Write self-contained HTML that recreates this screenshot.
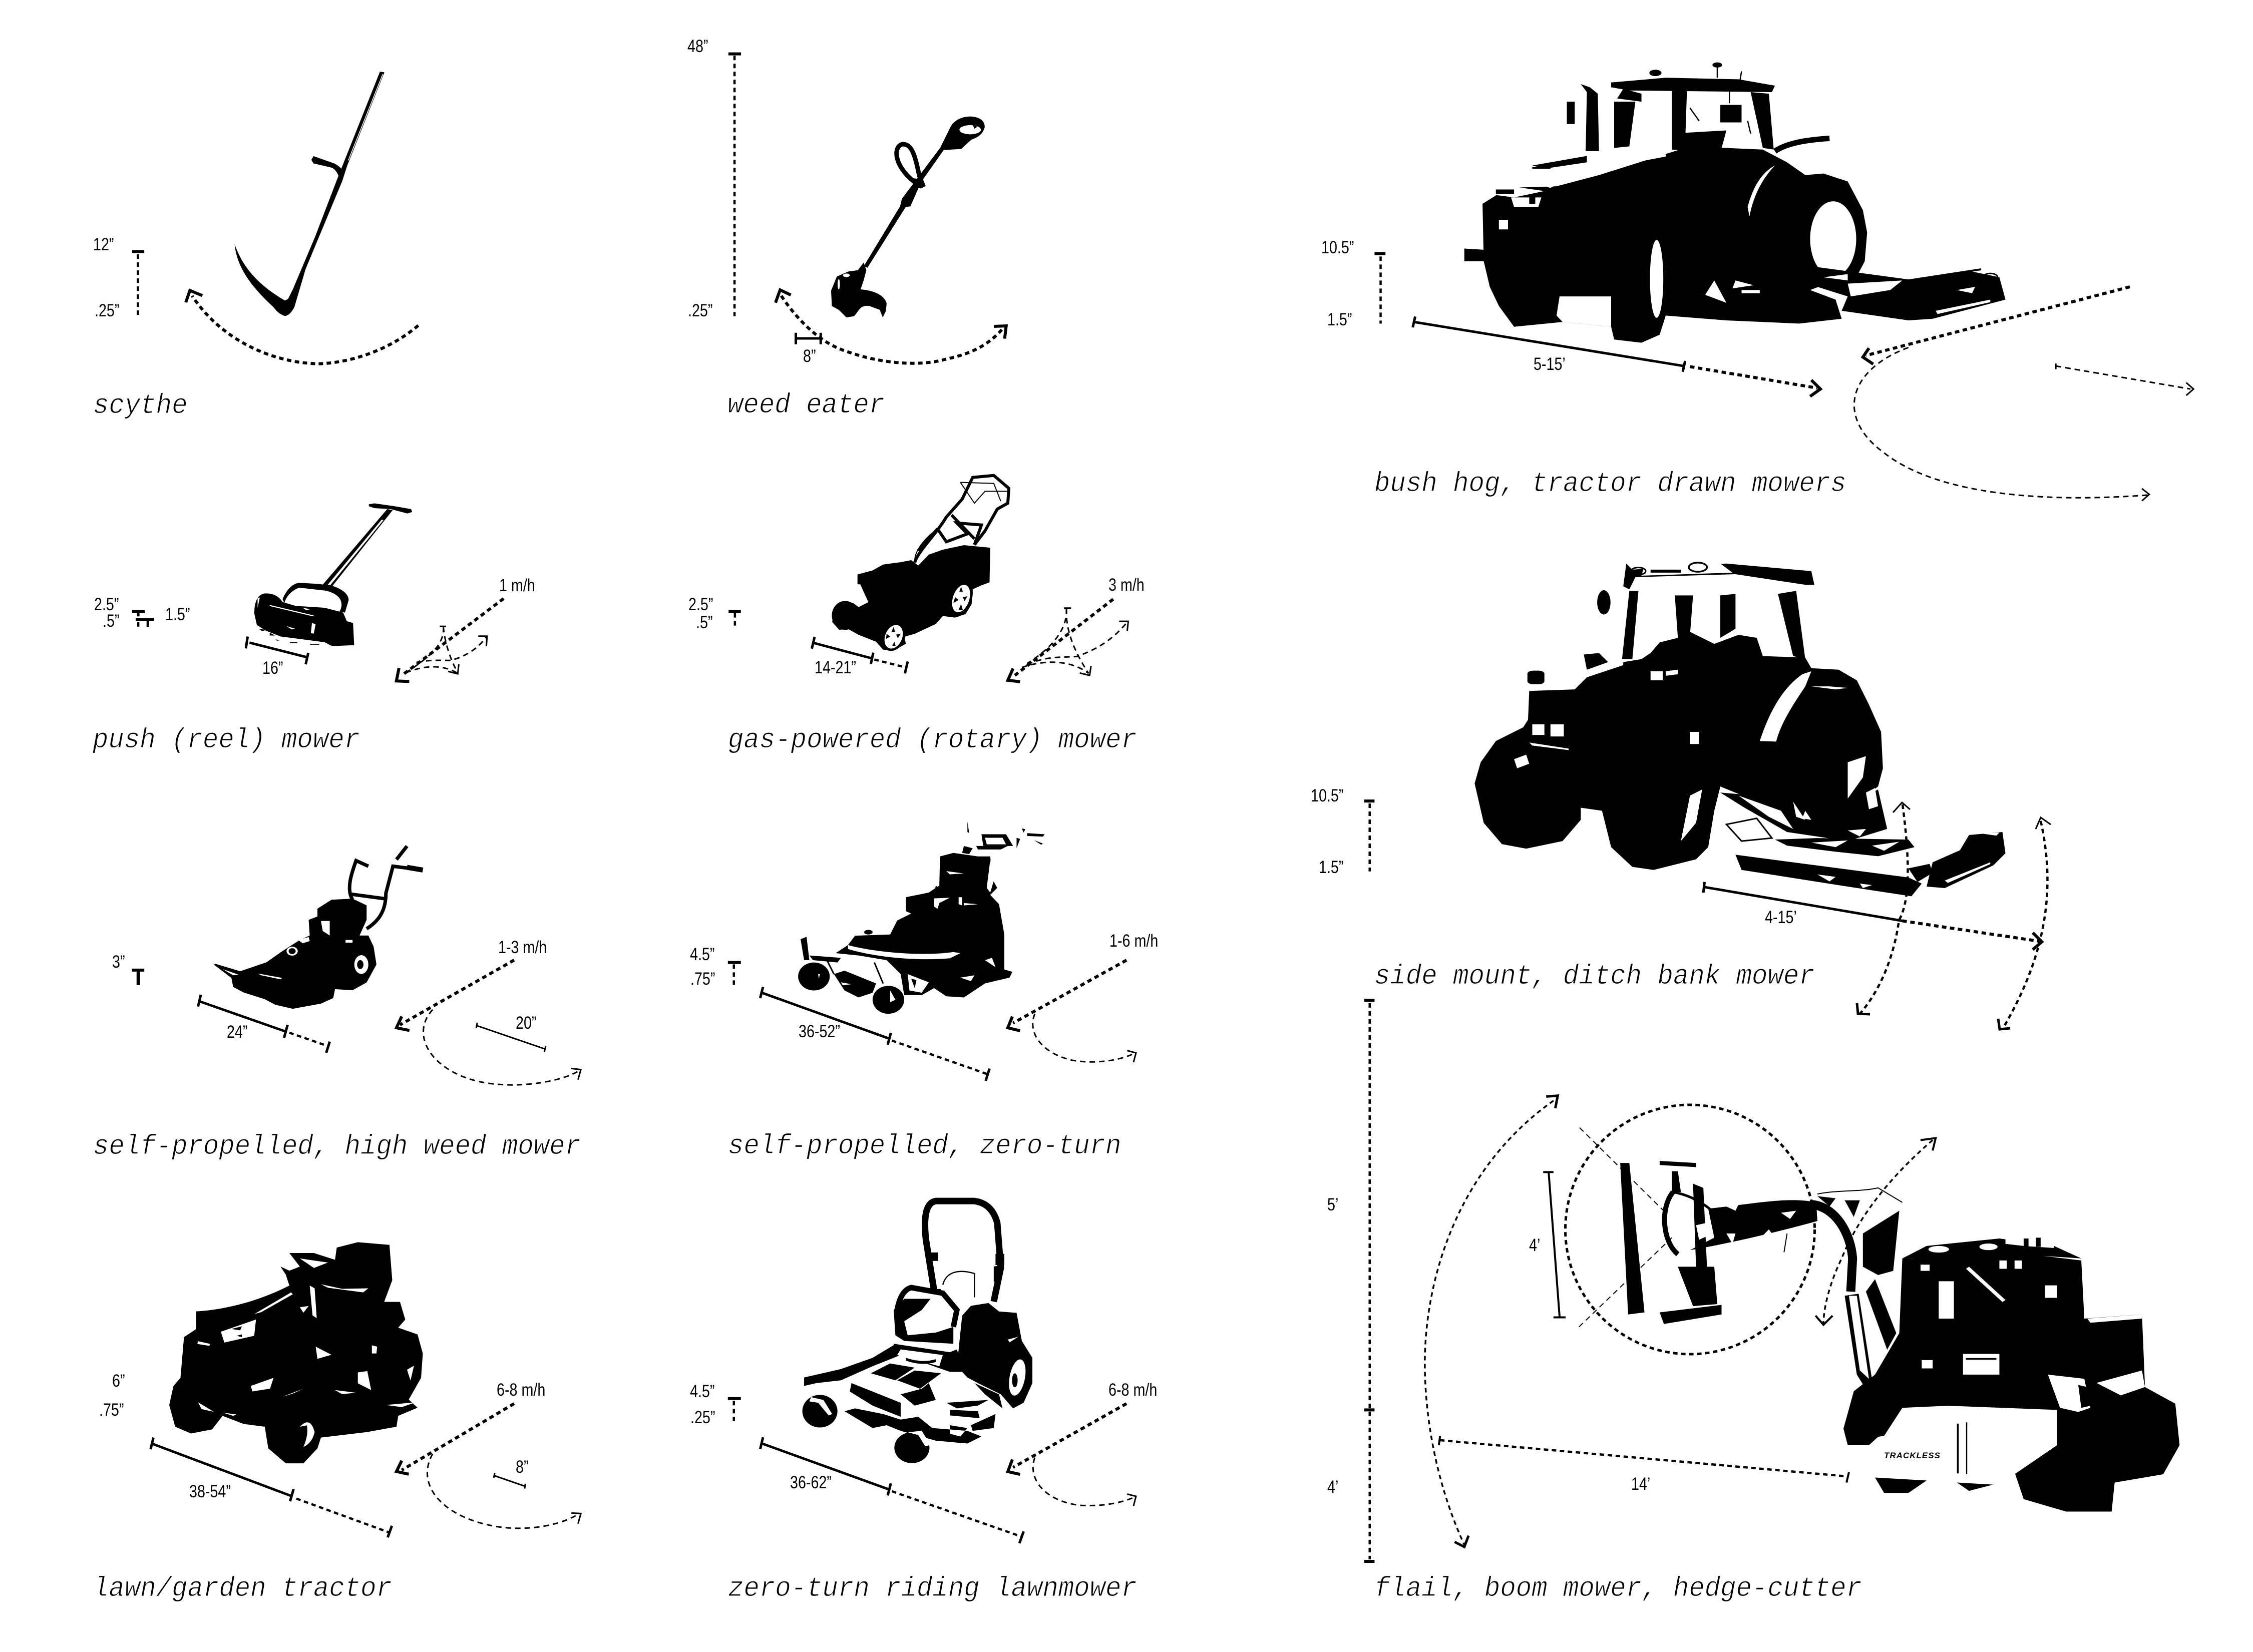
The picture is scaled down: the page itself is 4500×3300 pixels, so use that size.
<!DOCTYPE html>
<html><head><meta charset="utf-8"><title>Mower types</title>
<style>
html,body{margin:0;padding:0;background:#fff}
svg{display:block}
svg *{vector-effect:non-scaling-stroke}
.t,.m,.n,.s,.s3,.h,.k{fill:none;stroke:#000}
.t{stroke-width:6;stroke-dasharray:9 7}
.m{stroke-width:4.5;stroke-dasharray:9 7}
.n{stroke-width:3;stroke-dasharray:11 8}
.s{stroke-width:5}
.s3{stroke-width:3}
.h{stroke-width:6}
.w{fill:#fff}
.cap{font-family:"Liberation Mono",monospace;font-style:italic;font-size:56px;fill:#000;stroke:#fff;stroke-width:1.1}
.lb{font-family:"Liberation Sans",sans-serif;font-size:35px;fill:#000}
</style></head><body>
<svg xmlns="http://www.w3.org/2000/svg" width="4500" height="3300" viewBox="0 0 4500 3300">
<rect width="4500" height="3300" fill="#fff"/>

<!-- scythe -->
<g transform="translate(100,50) scale(.6378,.5421)">
<path d="M1033 172L1047 174L930 520L915 575L800 900L765 1040Q750 1072 735 1072Q715 1065 700 1040C640 975 585 900 578 808C600 880 640 950 735 1015L745 1010L760 975L830 780L905 550Z"/>
<path class="w" d="M1041 180L1043 182L935 500L933 498Z"/>
<path d="M818 497L825 483L890 510Q915 525 918 545L905 560Q895 530 880 525L825 510Z"/>
<path class="h" d="M257 835H295"/><path class="m" d="M275 845V1075"/>
<path class="t" d="M1153 1107C1040 1220 900 1250 830 1248C680 1240 530 1150 445 998"/>
<path class="h" d="M425 1022L438 978L477 997"/>
</g>

<!-- weed eater -->
<g transform="translate(1350,50) scale(.7653,.5102)">
<path d="M690 480L718 395Q735 358 770 358Q806 362 806 400Q800 435 772 448Q755 470 745 485L695 490Z"/>
<ellipse class="w" cx="768" cy="410" rx="28" ry="18"/>
<path d="M775 392l12 6l-8 8zM690 480L700 487L640 615L612 710L600 712L500 950L490 945L585 710L590 680L620 620Z"/>
<path class="k" stroke-width="9" d="M632 625C570 560 565 480 590 467C618 462 625 520 636 595"/>
<path d="M620 600L645 605L652 630L640 640L620 635Z"/>
<path d="M490 930L497 960L490 1000L482 1035C520 1040 545 1060 550 1090L548 1120L540 1145L532 1115L505 1100C480 1095 478 1120 465 1140L445 1145L425 1115L407 1100L405 1040L420 985L450 965L475 960Z"/>
<ellipse class="w" cx="445" cy="980" rx="9" ry="7"/><ellipse class="w" cx="425" cy="1015" rx="3" ry="20"/>
<path class="h" d="M137 113H170"/><path class="m" d="M153 120V1140"/>
<path class="t" d="M275 1060C310 1140 370 1240 440 1275C540 1330 640 1335 700 1310C760 1290 810 1265 855 1185"/>
<path class="h" d="M260 1087L272 1037L300 1057M830 1180L862 1178L858 1228"/>
<path class="s" d="M313 1205V1250M313 1227H380M378 1205V1250"/>
</g>

<!-- push reel mower -->
<g transform="translate(150,950) scale(.7334,.3827)">
<path d="M800 150L815 145L870 160L915 175L918 190L905 198L860 175L815 170L800 160Z"/>
<path d="M850 175L865 180L700 578L672 575Z"/>
<path class="w" d="M835 230L840 232L695 572L688 570Z"/>
<path d="M565 645C575 600 590 565 610 560L660 565L700 575C730 595 745 620 745 650L735 715L720 710C735 660 720 615 680 600L610 585C590 600 575 630 570 665Z"/>
<path d="M488 720C488 650 500 615 520 615C540 615 555 630 565 660L600 680L680 690L730 715L740 760L757 770L760 885L700 890L680 870L640 860L560 840L520 810L495 780Z"/>
<path class="w" d="M530 675L650 730L648 735L530 681ZM575 785L600 800L590 803ZM645 770L655 775L650 825L642 822ZM620 690L640 697L630 704ZM497 640L503 636L497 690Z"/>
<path d="M500 800l20 5l-10 8zM545 855l15 4l-10 3zM585 870h20v4h-20zM640 878h25v5h-25zM690 885l20-30l5 30zM530 820l15 15l-15 0z"/>
<path class="h" d="M155 710H190M165 750H215"/><path class="s" d="M172 710V735M198 750V790M470 840L465 902M475 872L635 950M635 925L628 985"/>
<path class="m" d="M172 765V790"/>
<path class="t" d="M1167 642L892 1040"/><path class="h" d="M882 1005L875 1072L910 1075"/>
<path class="s3" d="M993 787H1010"/>
<path class="n" d="M1003 790C1005 870 980 930 900 1030M1003 790C1005 850 1020 960 1043 1030M900 1030C950 990 1000 985 1040 1030M930 975C970 960 1000 965 1020 965C1060 950 1100 900 1120 840"/>
<path class="s3" d="M1016 1022L1042 1035L1045 985M1098 838L1122 838L1120 890"/>
</g>

<!-- gas mower -->
<g transform="translate(1350,930) scale(.7015,.3954)">
<path d="M517 550L560 530L590 500L640 488L670 478L690 505L720 450L760 425L820 402L895 415L893 590L870 605L845 625L842 700L825 750L795 768L760 760L740 800L680 850L650 865L655 900L620 935L590 930L570 890L520 855L490 825L465 830L445 790L450 720L475 685L505 695L520 715L548 690L525 600L517 600Z"/>
<ellipse cx="482" cy="757" rx="38" ry="73"/>
<ellipse cx="812" cy="672" rx="31" ry="92" transform="rotate(8 812 672)"/>
<ellipse cx="620" cy="865" rx="33" ry="72" transform="rotate(8 620 865)"/>
<ellipse class="w" cx="812" cy="672" rx="24" ry="70" transform="rotate(8 812 672)"/>
<ellipse class="w" cx="620" cy="865" rx="25" ry="60" transform="rotate(8 620 865)"/>
<path d="M812 612l5 25l-10 0zM795 665l10 14l-15 15zM830 660l-8 25l-5-20zM812 700l5 30l-12-2zM620 815l4 25l-10 0zM600 850l10 14l-12 12zM640 850l-8 22l-5-18zM622 890l4 22l-10-2z"/>
<path class="k" stroke-width="6" d="M680 490C690 430 740 350 770 260L815 170L845 60L905 50L948 115L945 190L915 220L880 330L850 400M745 320L690 430M745 320L770 385L830 345L800 290L870 300L850 400M785 250L850 370"/>
<path class="k" stroke-width="2" d="M680 480C680 420 720 350 745 320M810 85L850 190L880 130L945 130M810 85L905 90L925 180"/>
<path class="h" d="M150 737H185"/><path class="s" d="M395 865L387 925M390 895L560 975M562 945L555 1002M660 990L652 1050"/>
<path class="m" d="M168 745V815M565 980L655 1020"/>
<path class="t" d="M1245 675L965 1060"/><path class="h" d="M960 1025L945 1085L980 1092"/>
<path class="s3" d="M1105 720H1125M1262 787L1288 787L1285 835M1150 1048L1178 1060L1182 1012"/>
<path class="n" d="M1112 722C1115 800 1090 900 1000 1000M1112 722C1110 800 1120 900 1175 1050M1000 1005C1060 960 1100 970 1140 965C1200 930 1250 870 1285 790M985 1020C1040 985 1120 975 1175 1050"/>
</g>

<!-- self propelled high weed -->
<g transform="translate(150,1650) scale(.7015,.4464)">
<path d="M395 620L400 617L470 650L545 610L590 560L640 510L668 490L665 420L690 405L690 370L730 330L790 325L830 355L830 420L810 490L835 490L850 540L858 620L830 700L790 735L740 730L735 770L700 795L620 818L570 800L540 775L480 745L450 720L445 680Z"/>
<ellipse class="w" cx="815" cy="620" rx="20" ry="42"/><ellipse cx="812" cy="620" rx="9" ry="20"/>
<ellipse class="w" cx="618" cy="560" rx="16" ry="20"/><ellipse cx="618" cy="560" rx="10" ry="13"/>
<path class="w" d="M700 425L725 425L725 490L705 470ZM635 510L665 497L668 515L648 525ZM520 660L590 680L585 686L530 668ZM420 640L465 665L450 668ZM770 510h20v12h-20z"/>
<path class="k" stroke-width="7" d="M790 330C770 280 790 200 800 155L835 180M830 460C870 420 885 370 885 300L905 180L955 190M785 305L880 325M915 150L945 90"/>
<path class="k" stroke-width="10" d="M945 185L990 197"/>
<path class="h" d="M162 645H197"/><path class="s" d="M358 755L350 808M355 785L600 920M605 890L595 948M725 965L715 1015"/>
<path class="k" stroke-width="7" d="M180 645V712"/>
<path class="m" d="M610 925L720 985"/>
<path class="t" d="M1250 600L925 890"/><path class="h" d="M930 852L915 903L952 915"/>
<path class="n" d="M1018 822C960 920 1000 1060 1110 1125C1220 1190 1380 1150 1435 1095"/>
<path class="s3" d="M1412 1085L1440 1090L1432 1135M1145 880L1142 905M1143 893L1338 998M1340 985L1336 1012"/>
</g>

<!-- self propelled zero turn -->
<g transform="translate(1350,1620) scale(.7015,.4656)">
<path d="M752 195L790 180L860 195L895 195L900 290L915 330L895 360L920 400L935 530L935 680L958 690L950 715L880 740L820 800L770 795L735 760L700 790L650 790L640 700L600 640L520 620L455 610L490 575L510 535L610 530L630 470L670 440L655 430L655 370L720 350L750 320Z"/>
<ellipse cx="548" cy="520" rx="12" ry="10"/>
<path class="w" d="M770 258L820 268L780 272ZM735 375L780 372L750 395L745 420L735 410ZM805 370L815 370L815 405L805 400ZM820 395L860 400L820 405ZM490 575C560 605 700 625 790 605L810 610L780 632C680 645 560 625 490 592ZM810 715L850 705L840 730ZM880 640L900 630L910 670ZM895 210L905 300L895 350L885 330ZM660 700L720 735L700 780L665 770Z"/>
<path d="M670 720l15 5l-5 35zM800 590l20 5l-15 15z"/>
<ellipse cx="393" cy="710" rx="45" ry="60"/><ellipse cx="605" cy="810" rx="45" ry="60"/>
<path d="M450 700L480 685L570 740L560 780L520 800L480 770Z"/>
<path class="w" d="M470 735l30 8l-25 5zM610 770l15 40l-15 10zM405 700l5 0l-3 20z"/>
<path class="k" stroke-width="3" d="M565 650L590 740M430 640L450 700"/>
<path d="M355 550L372 540L380 640L365 640ZM380 620L470 630L460 650L390 640ZM870 100h70l20 50h-85zM1000 95l50 5l-5 10l-45-3zM830 45l5 50l-5-5zM740 320l25 30l-30 10z"/>
<path class="w" d="M880 115h50l10 28h-55z"/>
<path d="M855 150h90l-20 15h-65zM970 115l10 5l-10 40zM1020 125l25 15l-5 5zM985 75l10 3l-5 15zM820 150l25 10l-10 25l-20-5z"/>
<path class="h" d="M148 650H185"/><path class="s" d="M248 755L240 803M245 780L610 978M612 952L603 1003M893 1105L882 1158"/>
<path class="m" d="M165 658V748M615 985L885 1128"/>
<path class="t" d="M1283 640L960 910"/><path class="h" d="M958 882L945 930L980 943"/>
<path class="n" d="M1022 870C1000 950 1040 1040 1130 1070C1210 1090 1280 1060 1305 1040"/>
<path class="s3" d="M1285 1028L1310 1038L1303 1078"/>
</g>

<!-- lawn garden tractor -->
<g transform="translate(150,2400) scale(.7015,.5421)">
<path d="M345 405C420 400 520 370 610 310L600 270L585 240L610 255L640 240L610 190L680 190L740 215L745 170L805 150L895 160L903 290L880 370L925 370L940 435L920 465L975 490L990 560L985 650L950 730L975 760L920 790L915 830L830 850L700 870L690 910L650 965L600 965L550 910L540 830L480 820L420 790L390 840L330 855L285 830L268 750L280 680L300 650L310 500L345 470Z"/>
<path class="w" d="M415 480L515 435L510 495L425 520ZM350 515L385 525L382 532L348 525ZM500 680L565 650L555 690L505 700ZM700 305L760 322L835 320L820 335L720 318ZM510 415L615 335L620 342L530 408ZM685 535L730 565L690 580ZM845 530L860 535L858 560L845 560ZM805 630L832 625L843 695L805 670ZM885 750L970 740L930 758ZM590 720L650 690L620 708ZM640 830Q670 790 682 850Q675 890 650 905Q665 860 660 825ZM350 740L395 775L360 765ZM420 778L460 785L450 790ZM668 310L682 320L688 430L676 420ZM640 390L665 385L650 410ZM640 210L720 225L680 245ZM945 620L965 605L955 660ZM740 695L800 705L760 710Z"/>
<path d="M445 470l30-10l-5 15zM460 495l15-5l0 10z"/>
<path class="h" style="stroke-width:0" d="M0 0"/>
<path class="s" d="M223 870L215 913M220 893L615 1085M622 1060L612 1105M902 1195L890 1238"/>
<path class="m" d="M630 1095L895 1220"/>
<path class="t" d="M1250 745L930 990"/><path class="h" d="M930 955L915 995L950 1005"/>
<path class="n" d="M1018 930C970 1040 1040 1150 1170 1190C1280 1225 1390 1190 1435 1150"/>
<path class="s3" d="M1413 1148L1440 1150L1432 1187M1195 1000L1192 1018M1193 1010L1282 1050M1282 1040L1280 1058"/>
</g>

<!-- zero turn riding -->
<g transform="translate(1350,2370) scale(.7015,.5612)">
<path class="k" stroke-width="13" d="M735 370L712 190Q700 60 740 52L850 52Q900 60 915 130L925 290L905 410"/>
<path d="M712 235h35v30h-35zM910 240h25v40h-25zM905 285l25-5l-5 50l-20 10z"/>
<path class="k" stroke-width="2.5" d="M760 350C770 300 810 295 850 310L850 395"/>
<path class="k" stroke-width="11" d="M630 440Q640 370 670 360L760 380L800 440L790 500"/>
<path d="M715 365h40v15h-40z"/>
<path d="M620 440L650 400L725 400L700 440L650 480L660 530L740 520L790 500L790 560L650 550L625 530Z"/>
<path d="M815 460L840 425L890 415L920 445L970 450L985 550L1015 610L1015 700L990 770L960 790L925 740L860 700L830 680L800 640Z"/>
<ellipse class="w" cx="972" cy="680" rx="22" ry="65" transform="rotate(8 972 680)"/>
<ellipse cx="965" cy="690" rx="8" ry="25"/>
<path class="w" d="M945 545L975 535L950 555Z"/>
<path d="M365 680L470 650L560 610L620 565L640 600L560 640L470 690L400 700L365 710Z"/>
<path d="M620 560L780 590L800 580L820 660L780 660L620 590ZM500 700L640 770L640 820L560 780L495 730Z"/>
<path class="w" d="M640 580L760 600L750 640L630 600Z"/>
<path d="M655 610Q700 630 740 615L740 625Q700 640 655 620Z"/>
<path d="M555 665L610 630L680 645L625 690ZM630 690L680 655L755 665L695 720ZM780 795L860 800L865 825L780 815ZM840 850L910 810L905 860L845 870ZM640 740L700 720L720 700L740 760L680 780ZM780 850L830 860L810 890L780 880ZM560 860L600 850L640 870L740 905L830 915L870 890L830 870L730 860L690 820L640 830L590 810L510 790L480 800Z"/>
<ellipse cx="410" cy="800" rx="50" ry="58"/><ellipse cx="672" cy="930" rx="50" ry="55"/>
<path class="w" d="M385 750L420 760L445 810L435 815L405 770L380 765ZM660 875L700 870L725 920L710 925L690 885Z"/>
<path d="M850 700L920 740L930 790L920 780L880 740ZM770 770L890 760L860 780L800 790Z"/>
<path class="h" d="M148 755H185"/><path class="s" d="M248 893L240 935M245 915L610 1080M612 1057L603 1100M990 1228L978 1270"/>
<path class="m" d="M165 763V835M615 1085L985 1247"/>
<path class="t" d="M1283 773L960 1000"/><path class="h" d="M958 972L945 1015L980 1025"/>
<path class="n" d="M1022 965C1000 1040 1050 1120 1150 1135C1220 1140 1270 1125 1308 1105"/>
<path class="s3" d="M1285 1095L1310 1103L1303 1137"/>
</g>

<!-- bush hog tractor -->
<g transform="translate(2600,50) scale(1.2117,.6378)">
<path d="M298 560L340 510L420 505L490 470L590 410L640 380L760 390L800 430L830 470L860 465L900 490L925 580L932 650L928 740L910 805L880 800L838 830L880 860L890 920L820 935L700 925L600 910L590 970L560 995L515 985L510 945L430 930L350 945L325 880L310 820L300 740Z"/>
<ellipse class="w" cx="876" cy="670" rx="38" ry="118"/>
<ellipse class="w" cx="585" cy="795" rx="11" ry="122"/>
<path class="w" d="M425 850L510 850L510 945L430 930L420 910ZM665 845L680 800L700 870ZM735 570C745 500 760 460 780 440C760 480 745 530 738 600ZM390 500C450 450 520 420 600 405L600 412C520 440 450 470 410 510ZM300 510L345 505L400 520L350 540L310 530ZM345 540L395 540L390 570L350 570ZM325 610h15v30h-15zM715 800l30 15l-35 10zM725 830h30v10h-30z"/>
<path d="M320 515h30v15h-30zM375 535h10v25h-10z"/>
<path d="M268 700L310 705L325 740L268 740ZM510 180L600 165L720 170L780 190L775 210L540 205L510 195ZM470 210L488 215L490 395L468 395ZM460 185L470 210L488 215L475 195ZM515 240L550 240L540 380L515 385ZM610 200L635 205L632 370L610 350ZM740 210L770 215L778 390L760 385ZM690 250L725 250L725 305L690 305ZM530 200L560 215L560 240L520 230ZM437 240L450 240L450 310L437 310ZM610 340L700 330L690 400L610 390ZM380 440L470 410L470 430L400 450ZM380 445h30v5h-30z"/>
<path class="k" stroke-width="2.5" d="M685 165V125M705 205V245M725 145L720 200M640 260L655 300M735 300L740 340"/>
<circle cx="685" cy="125" r="8"/>
<circle cx="583" cy="150" r="10"/>
<path class="k" stroke-width="11" d="M780 395C800 370 830 360 870 355"/>
<path d="M840 760L1000 800L1100 770L1150 790L1160 860L1040 920L1000 925L890 895L900 850L850 820Z"/>
<path class="w" d="M900 810L990 800L970 830L905 850ZM1045 895L1135 860L1135 868L1048 905ZM1080 830l30-10l-5 20zM860 790L900 800L900 780Z"/>
<path class="k" stroke-width="4" d="M845 760L1000 800L1120 765"/>
<circle class="k" stroke-width="3" cx="1135" cy="790" r="12"/>
<path class="h" d="M120 716H138"/>
<path class="m" d="M130 725V935"/>
<path class="s" d="M187 913L183 947M185 930L630 1068M632 1052L628 1086"/>
<path class="t" d="M640 1070L850 1137"/><path class="h" d="M840 1112L855 1140L838 1163"/>
<path class="t" d="M1365 820L930 1035"/><path class="h" d="M935 1012L925 1040L942 1062"/>
<path class="n" d="M1000 1010C900 1080 880 1230 960 1340C1040 1460 1200 1500 1395 1472"/>
<path class="s3" d="M1385 1452L1397 1470L1385 1490M1243 1060V1078M1458 1120L1470 1140L1458 1160"/>
<path class="n" d="M1243 1068L1465 1140"/>
</g>

<!-- side mount tractor -->
<g transform="translate(2600,1050) scale(1.2117,.6059)">
<path d="M530 450L560 440L575 420L590 385L620 370L640 350L680 390L720 360L750 370L760 430L830 435L840 470L885 475L915 510L935 590L955 680L958 800L950 860L920 905L890 1000L820 980L770 925L690 860L680 940L670 1060L650 1100L580 1135L545 1125L510 1060L495 940L460 930L460 970L430 1040L370 1065L330 1050L300 980L285 850L295 780L320 710L365 665L373 640L375 545L450 540L470 500L530 460Z"/>
<path class="w" d="M755 710C770 620 790 540 825 490L840 480L830 530C810 590 790 650 782 712ZM380 655h20v35h-20zM410 655h22v40h-22zM375 715L440 735L440 740L380 725ZM350 770l20-15l5 30l-20 15zM900 780L930 760L925 830L900 900ZM575 480h20v30h-20zM600 480l20-5v15l-20 5zM640 890L660 870L650 980L625 1040ZM400 480l30-5l-5 30l-25 15zM640 680h15v40h-15zM840 530L880 540L900 535L870 530Z"/>
<path d="M535 125L545 145L700 125L840 150L845 195L830 195L715 160L550 170L540 210L530 200Z"/>
<path class="w" d="M565 130L690 125L710 155L560 165Z"/>
<path d="M575 145h50v10h-50z"/>
<circle class="k" stroke-width="3.5" cx="653" cy="137" r="15"/><circle class="k" stroke-width="3" cx="555" cy="150" r="12"/>
<path d="M540 215L555 215L545 440L528 440ZM615 230L645 230L640 360L620 370ZM690 230L715 225L715 340L690 370ZM785 225L815 215L830 440L810 430Z"/>
<ellipse cx="498" cy="253" rx="11" ry="40"/>
<rect x="372" y="478" width="28" height="45" rx="10"/>
<path d="M465 425l25-5l15 30l-35 25z"/>
<path d="M690 880L810 900L840 950L920 900L950 870L965 1000L900 1040L800 1010L730 930Z"/>
<path class="w" d="M720 890L790 940L810 1000L770 960ZM810 910l20 60l-15-10zM930 880l15-15l5 60l-15 10zM900 1005l30-5l-10 25zM830 940l10 30l-15-5z"/>
<path class="k" stroke-width="3" d="M700 985L750 965L775 1030L725 1040Z"/>
<path d="M780 1035L850 1030L1000 1035L1010 1060L950 1090L880 1075L800 1055Z"/>
<path class="w" d="M840 1045L900 1038L880 1060ZM940 1055L985 1042L960 1072Z"/>
<path d="M715 1085L1000 1160L1022 1180L1005 1222L900 1190L725 1135Z"/>
<path class="w" d="M850 1150l30 8l-10 15zM920 1180l20 5l-15 10z"/>
<path d="M1040 1110L1085 1070L1100 1020L1155 1010L1160 1080L1140 1120L1060 1195L1030 1190Z"/>
<path class="w" d="M1120 1015l30-3l-5 10zM1060 1170L1135 1110L1135 1116L1065 1178Z"/>
<path d="M1000 1130l35-15l5 30l-25 30z"/>
<path class="h" d="M103 908H120"/><path class="m" d="M112 916V1140"/>
<path class="s" d="M664 1175L662 1210M665 1192L990 1303"/>
<path class="t" d="M990 1303L1215 1370"/><path class="h" d="M1205 1342L1220 1372L1205 1398"/>
</g>

<!-- side mount arcs (full coordinates) -->
<path class="m" d="M4076 1640C4105 1770 4090 1900 4003 2050"/>
<path class="s3" d="M4066 1656L4076 1633L4096 1647"/>
<path class="h" style="stroke-width:5" d="M3991 2035L3994 2056L4015 2054"/>
<path class="m" d="M3800 1607C3815 1720 3815 1800 3793 1838C3780 1930 3745 1990 3715 2025"/>
<path class="s3" d="M3781 1623L3799 1603L3815 1617"/>
<path class="h" style="stroke-width:5" d="M3709 2004L3711 2025L3735 2026"/>

<!-- flail boom mower -->
<g transform="translate(2600,1950) scale(1.2117,.8291)">
<path d="M525 450L540 450L565 810L538 815ZM590 810L692 792L692 815L597 838ZM610 470L620 470L625 520L610 520ZM620 700L680 700L685 790L645 795ZM590 445L650 450L650 460L590 455ZM645 500L662 510L668 700L650 700Z"/>
<path class="k" stroke-width="10" d="M612 520C590 560 595 640 620 670"/>
<path class="k" stroke-width="5" d="M612 520Q650 530 680 570"/>
<path d="M640 660C720 640 800 610 850 590L848 545C800 530 740 550 670 560L680 630Z"/>
<path class="w" d="M790 570l25-5l-10 20zM700 555l20-5l-5 15zM700 620l15 0l-5 25zM760 625l10-15l5 10zM650 600l15-5l5 30l-15 10z"/>
<path class="k" stroke-width="18" d="M840 550C880 555 905 620 908 680L905 760"/>
<path d="M925 620L985 565L975 710L950 720L925 700ZM945 730L980 860L965 900L930 760ZM895 770L918 765L942 990L930 995L915 960Z"/>
<path class="w" d="M902 770L915 770L935 970L920 950Z"/>
<path class="k" stroke-width="2" d="M850 525C880 515 920 520 950 510L990 545M800 620L795 665"/>
<path d="M850 530l30 5l-10 20zM895 540l25 0l-10 40z"/>
<path d="M990 680L1200 670L1285 685L1290 825L1385 815L1390 990L1440 1030L1447 1130L1420 1200L1340 1220L1335 1290L1260 1290L1190 1260L1175 1195L1240 1130L1245 1045L1065 1035L990 1040L950 1130L900 1130L893 1090L910 1000L945 960L985 860Z"/>
<path d="M1030 650L1150 632L1240 650L1285 680L1200 672L990 680Z"/>
<ellipse class="w" cx="1050" cy="658" rx="17" ry="8"/><ellipse class="w" cx="1132" cy="652" rx="15" ry="8"/>
<path class="w" d="M1160 632l20-5l60 8l0 20l-50-5l-30-5z"/>
<path d="M1190 632h8v20h-8zM1210 630h8v22h-8z"/>
<path class="w" d="M1090 910h60v50h-60ZM1050 735h25v90h-25ZM1100 700L1160 780L1155 785L1095 705ZM1022 925h18v20h-18ZM1230 960L1290 970L1300 1040L1280 1050L1250 1040ZM1310 980L1385 950L1390 990L1350 1010ZM1295 825L1385 815L1385 825L1300 835ZM1020 695h15v15h-15zM1150 685h12v20h-12zM1175 685h12v20h-12zM1225 745h20v30h-20z"/>
<path d="M1095 920h50v4h-50zM1280 985l15 5l5 45l-15 5z"/>
<path class="w" d="M950 1110L1080 1075L1245 1045L1245 1130L1175 1200L1140 1225L920 1205L920 1150Z"/>
<path d="M1080 1078h3v120h-3zM1095 1075h2v125h-2zM945 1208L1030 1215L1000 1245L960 1245ZM1080 1220L1140 1225L1100 1240Z"/>
<path class="h" d="M103 58H120M103 1045H120M103 1410H120"/>
<path class="m" d="M112 65V1405"/>
<path class="m" style="stroke-width:3.5" d="M415 300C250 470 200 750 203 950C205 1100 230 1250 268 1370"/>
<path class="h" style="stroke-width:5" d="M403 290L422 288L418 318M252 1363L268 1375L275 1348"/>
<path class="n" style="stroke-width:2" d="M458 365L600 570M457 845L610 630"/>
<path class="s3" style="stroke-width:4" d="M398 472H415M407 472L425 820M415 822H435"/>
<path class="m" style="stroke-width:3.5" d="M1040 395C980 470 920 570 890 680C870 740 860 800 860 838"/>
<path class="s3" style="stroke-width:4" d="M1020 395L1045 390L1040 420M847 818L860 840L875 818M228 1108L226 1130M902 1195L898 1220"/>
<path class="m" d="M228 1118L898 1205"/>
</g>
<circle class="t" style="stroke-width:5" cx="3375.5" cy="2456" r="249"/>
<text x="3763" y="2913" font-family="Liberation Sans,sans-serif" font-size="17" font-weight="bold" font-style="italic" fill="#000" letter-spacing="1">TRACKLESS</text>

<!-- captions -->
<g class="cap">
<text transform="translate(186,825) scale(.935,1)">scythe</text>
<text transform="translate(1453,824) scale(.935,1)">weed eater</text>
<text transform="translate(185,1493) scale(.935,1)">push (reel) mower</text>
<text transform="translate(1454,1493) scale(.935,1)">gas-powered (rotary) mower</text>
<text transform="translate(186,2305) scale(.935,1)">self-propelled, high weed mower</text>
<text transform="translate(1454,2304) scale(.935,1)">self-propelled, zero-turn</text>
<text transform="translate(186,3188) scale(.935,1)">lawn/garden tractor</text>
<text transform="translate(1454,3188) scale(.935,1)">zero-turn riding lawnmower</text>
<text transform="translate(2745,981) scale(.935,1)">bush hog, tractor drawn mowers</text>
<text transform="translate(2745,1965) scale(.935,1)">side mount, ditch bank mower</text>
<text transform="translate(2745,3188) scale(.935,1)">flail, boom mower, hedge-cutter</text>
</g>

<!-- labels -->
<g class="lb">
<text transform="translate(186,500) scale(.82,1)">12”</text><text transform="translate(189,632) scale(.82,1)">.25”</text>
<text transform="translate(1373,104) scale(.82,1)">48”</text><text transform="translate(1374,632) scale(.82,1)">.25”</text><text transform="translate(1604,723) scale(.82,1)">8”</text>
<text transform="translate(188,1219) scale(.82,1)">2.5”</text><text transform="translate(205,1252) scale(.82,1)">.5”</text><text transform="translate(330,1239) scale(.82,1)">1.5”</text><text transform="translate(524,1346) scale(.82,1)">16”</text><text transform="translate(997,1181) scale(.82,1)">1 m/h</text>
<text transform="translate(1375,1219) scale(.82,1)">2.5”</text><text transform="translate(1390,1255) scale(.82,1)">.5”</text><text transform="translate(1627,1345) scale(.82,1)">14-21”</text><text transform="translate(2214,1180) scale(.82,1)">3 m/h</text>
<text transform="translate(224,1933) scale(.82,1)">3”</text><text transform="translate(453,2073) scale(.82,1)">24”</text><text transform="translate(995,1904) scale(.82,1)">1-3 m/h</text><text transform="translate(1030,2055) scale(.82,1)">20”</text>
<text transform="translate(1378,1918) scale(.82,1)">4.5”</text><text transform="translate(1379,1967) scale(.82,1)">.75”</text><text transform="translate(1595,2072) scale(.82,1)">36-52”</text><text transform="translate(2216,1891) scale(.82,1)">1-6 m/h</text>
<text transform="translate(224,2770) scale(.82,1)">6”</text><text transform="translate(198,2828) scale(.82,1)">.75”</text><text transform="translate(378,2991) scale(.82,1)">38-54”</text><text transform="translate(992,2788) scale(.82,1)">6-8 m/h</text><text transform="translate(1030,2942) scale(.82,1)">8”</text>
<text transform="translate(1378,2791) scale(.82,1)">4.5”</text><text transform="translate(1379,2843) scale(.82,1)">.25”</text><text transform="translate(1578,2973) scale(.82,1)">36-62”</text><text transform="translate(2214,2788) scale(.82,1)">6-8 m/h</text>
<text transform="translate(2639,506) scale(.82,1)">10.5”</text><text transform="translate(2651,650) scale(.82,1)">1.5”</text><text transform="translate(3063,739) scale(.82,1)">5-15’</text>
<text transform="translate(2618,1601) scale(.82,1)">10.5”</text><text transform="translate(2634,1744) scale(.82,1)">1.5”</text><text transform="translate(3525,1844) scale(.82,1)">4-15’</text>
<text transform="translate(2651,2418) scale(.82,1)">5’</text><text transform="translate(2651,2982) scale(.82,1)">4’</text><text transform="translate(3054,2499) scale(.82,1)">4’</text><text transform="translate(3258,2976) scale(.82,1)">14’</text>
</g>
</svg>
</body></html>
